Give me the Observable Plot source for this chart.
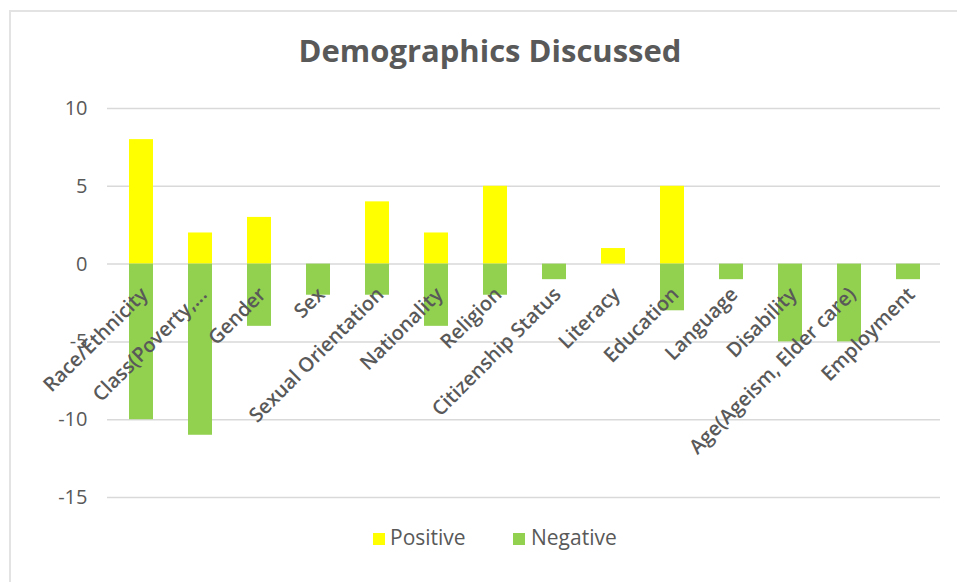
<!DOCTYPE html>
<html>
<head>
<meta charset="utf-8">
<script src="https://cdn.jsdelivr.net/npm/d3@7"></script>
<script src="https://cdn.jsdelivr.net/npm/@observablehq/plot@0.6"></script>
<style>
  html, body { margin: 0; padding: 0; background: #fff; }
  #wrap { position: relative; width: 957px; height: 582px; overflow: hidden; font-family: "Open Sans", sans-serif; }
  #border { position: absolute; left: 9px; top: 10px; width: 980px; height: 600px; border: 2px solid #E3E3E3; box-sizing: border-box; }
  #title { position: absolute; left: 0; width: 980px; top: 29px; text-align: center; font-size: 31px; font-weight: bold; color: #595959; }
  #plot { position: absolute; left: 0; top: 90px; }
  .lg { position: absolute; top: 522px; font-size: 21px; color: #595959; line-height: 30px; }
  .sw { position: absolute; top: 533px; width: 12px; height: 12px; }
</style>
</head>
<body>
<div id="wrap">
  <div id="border"></div>
  <div id="title">Demographics Discussed</div>
  <div id="plot"></div>
  <div class="sw" style="left:373px;background:#FFFF00"></div>
  <div class="lg" style="left:390px">Positive</div>
  <div class="sw" style="left:513px;background:#92D050"></div>
  <div class="lg" style="left:531px">Negative</div>
</div>
<script>
const categories = ["Race/Ethnicity", "Class(Poverty,...", "Gender", "Sex", "Sexual Orientation", "Nationality", "Religion", "Citizenship Status", "Literacy", "Education", "Language", "Disability", "Age(Ageism, Elder care)", "Employment"];
const positive = [8, 2, 3, 0, 4, 2, 5, 0, 1, 5, 0, 0, 0, 0];
const negative = [-10, -11, -4, -2, -2, -4, -2, -1, 0, -3, -1, -5, -5, -1];
const yTicks = [-15, -10, -5, 0, 5, 10];

const rows = categories.map((c, i) => ({cat: c, pos: positive[i], neg: negative[i]}));

const chart = Plot.plot({
  width: 957,
  height: 415,
  marginTop: 18,
  marginBottom: 8,
  marginLeft: 107,
  marginRight: 17,
  style: {fontFamily: "Open Sans, sans-serif", background: "transparent", overflow: "visible"},
  x: {type: "band", domain: categories, paddingInner: 0.6, paddingOuter: 0.3, insetLeft: 2, axis: null},
  y: {domain: [-15, 10], axis: null},
  marks: [
    Plot.ruleY(yTicks, {stroke: "#D9D9D9", strokeWidth: 1.5}),
    Plot.barY(rows, {x: "cat", y1: 0, y2: "pos", fill: "#FFFF00"}),
    Plot.barY(rows, {x: "cat", y1: 0, y2: "neg", fill: "#92D050"}),
    Plot.axisY(yTicks, {tickSize: 0, tickPadding: 20, fontSize: 20, fill: "#595959", tickFormat: d => String(d)}),
    Plot.text(rows, {x: "cat", y: () => 0, text: "cat", rotate: -45, textAnchor: "end", dx: 3, dy: 27, fontSize: 20, fontWeight: 600, fill: "#595959"})
  ]
});
document.getElementById("plot").appendChild(chart);
</script>
</body>
</html>
